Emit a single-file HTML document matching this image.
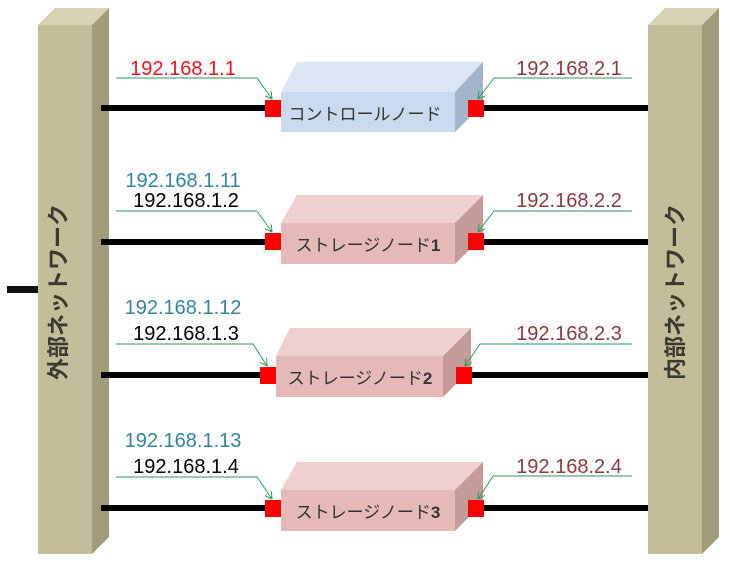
<!DOCTYPE html>
<html><head><meta charset="utf-8"><style>
html,body{margin:0;padding:0;background:#fff;}
svg{display:block;}
text{font-family:"Liberation Sans","Noto Sans CJK JP",sans-serif;}
</style></head><body>
<svg width="730" height="565" viewBox="0 0 730 565" xmlns="http://www.w3.org/2000/svg">
<defs>
<marker id="ar" markerWidth="8" markerHeight="8" refX="7" refY="4" orient="auto" markerUnits="userSpaceOnUse">
<path d="M0,0 L7,4 L0,8" fill="none" stroke="#2e9a5a" stroke-width="1"/>
</marker>
</defs>
<polygon points="38,25 55,8 109,8 92,25" fill="#d8d3b4"/>
<polygon points="92,25 109,8 109,537 92,554" fill="#a19c7c"/>
<rect x="38" y="25" width="54" height="529" fill="#c4bd9a"/>
<text transform="translate(66,292) rotate(-90)" text-anchor="middle" font-size="22" font-weight="bold" fill="#3a3a30">外部ネットワーク</text>
<rect x="7" y="286" width="31" height="7" fill="#111"/>
<polygon points="648,25 665,8 719,8 702,25" fill="#d8d3b4"/>
<polygon points="702,25 719,8 719,537 702,554" fill="#a19c7c"/>
<rect x="648" y="25" width="54" height="529" fill="#c4bd9a"/>
<text transform="translate(683,292) rotate(-90)" text-anchor="middle" font-size="22" font-weight="bold" fill="#3a3a30">内部ネットワーク</text>

<g>
<rect x="101" y="105" width="164" height="6" fill="#000"/>
<rect x="484" y="105" width="164" height="6" fill="#000"/>
<polygon points="281,92 297,62 483,62 455,92" fill="#dbe5f3"/>
<polygon points="455,92 483,62 483,104 455,132" fill="#a3b3ca"/>
<rect x="281" y="92" width="174" height="40" fill="#c9d9ee"/>
<text x="365" y="120" text-anchor="middle" font-size="17" fill="#333">コントロールノード</text>
<rect x="265" y="100" width="16" height="17" fill="#f00"/>
<rect x="468" y="100" width="16" height="17" fill="#f00"/>
<text x="183" y="75" text-anchor="middle" font-size="20" fill="#e8141c">192.168.1.1</text>
<polyline points="116,78 257,78 272,99" fill="none" stroke="#2e9a5a" stroke-width="1" marker-end="url(#ar)"/>
<text x="569" y="75" text-anchor="middle" font-size="20" fill="#8b3a3a">192.168.2.1</text>
<polyline points="632,78 494,78 478,99" fill="none" stroke="#2e9a5a" stroke-width="1" marker-end="url(#ar)"/>
</g>
<g>
<rect x="101" y="239" width="164" height="6" fill="#000"/>
<rect x="484" y="239" width="164" height="6" fill="#000"/>
<polygon points="281,223 297,195 483,195 455,223" fill="#efcfcf"/>
<polygon points="455,223 483,195 483,236 455,264" fill="#c39b9b"/>
<rect x="281" y="223" width="174" height="41" fill="#e6b9b9"/>
<text x="368" y="251" text-anchor="middle" font-size="17" fill="#333">ストレージノード<tspan font-weight="bold">1</tspan></text>
<rect x="265" y="233" width="16" height="17" fill="#f00"/>
<rect x="468" y="233" width="16" height="17" fill="#f00"/>
<text x="183" y="187" text-anchor="middle" font-size="20" fill="#31859c">192.168.1.11</text>
<text x="186" y="207" text-anchor="middle" font-size="20" fill="#000">192.168.1.2</text>
<polyline points="116,211 257,211 272,232" fill="none" stroke="#2e9a5a" stroke-width="1" marker-end="url(#ar)"/>
<text x="569" y="207" text-anchor="middle" font-size="20" fill="#8b3a3a">192.168.2.2</text>
<polyline points="632,211 494,211 478,232" fill="none" stroke="#2e9a5a" stroke-width="1" marker-end="url(#ar)"/>
</g>
<g>
<rect x="101" y="372" width="159" height="6" fill="#000"/>
<rect x="472" y="372" width="176" height="6" fill="#000"/>
<polygon points="276,356 290,328 471,328 443,356" fill="#efcfcf"/>
<polygon points="443,356 471,328 471,369 443,397" fill="#c39b9b"/>
<rect x="276" y="356" width="167" height="41" fill="#e6b9b9"/>
<text x="360" y="384" text-anchor="middle" font-size="17" fill="#333">ストレージノード<tspan font-weight="bold">2</tspan></text>
<rect x="260" y="367" width="16" height="17" fill="#f00"/>
<rect x="456" y="367" width="16" height="17" fill="#f00"/>
<text x="183" y="314" text-anchor="middle" font-size="20" fill="#31859c">192.168.1.12</text>
<text x="186" y="340" text-anchor="middle" font-size="20" fill="#000">192.168.1.3</text>
<polyline points="116,344 253,344 267,366" fill="none" stroke="#2e9a5a" stroke-width="1" marker-end="url(#ar)"/>
<text x="569" y="340" text-anchor="middle" font-size="20" fill="#8b3a3a">192.168.2.3</text>
<polyline points="632,344 480,344 465,366" fill="none" stroke="#2e9a5a" stroke-width="1" marker-end="url(#ar)"/>
</g>
<g>
<rect x="101" y="505" width="164" height="6" fill="#000"/>
<rect x="484" y="505" width="164" height="6" fill="#000"/>
<polygon points="281,490 297,462 483,462 455,490" fill="#efcfcf"/>
<polygon points="455,490 483,462 483,503 455,531" fill="#c39b9b"/>
<rect x="281" y="490" width="174" height="41" fill="#e6b9b9"/>
<text x="368" y="518" text-anchor="middle" font-size="17" fill="#333">ストレージノード<tspan font-weight="bold">3</tspan></text>
<rect x="265" y="500" width="16" height="17" fill="#f00"/>
<rect x="468" y="500" width="16" height="17" fill="#f00"/>
<text x="183" y="447" text-anchor="middle" font-size="20" fill="#31859c">192.168.1.13</text>
<text x="186" y="473" text-anchor="middle" font-size="20" fill="#000">192.168.1.4</text>
<polyline points="116,477 257,477 272,499" fill="none" stroke="#2e9a5a" stroke-width="1" marker-end="url(#ar)"/>
<text x="569" y="473" text-anchor="middle" font-size="20" fill="#8b3a3a">192.168.2.4</text>
<polyline points="632,476 493,476 478,499" fill="none" stroke="#2e9a5a" stroke-width="1" marker-end="url(#ar)"/>
</g>
</svg>
</body></html>
